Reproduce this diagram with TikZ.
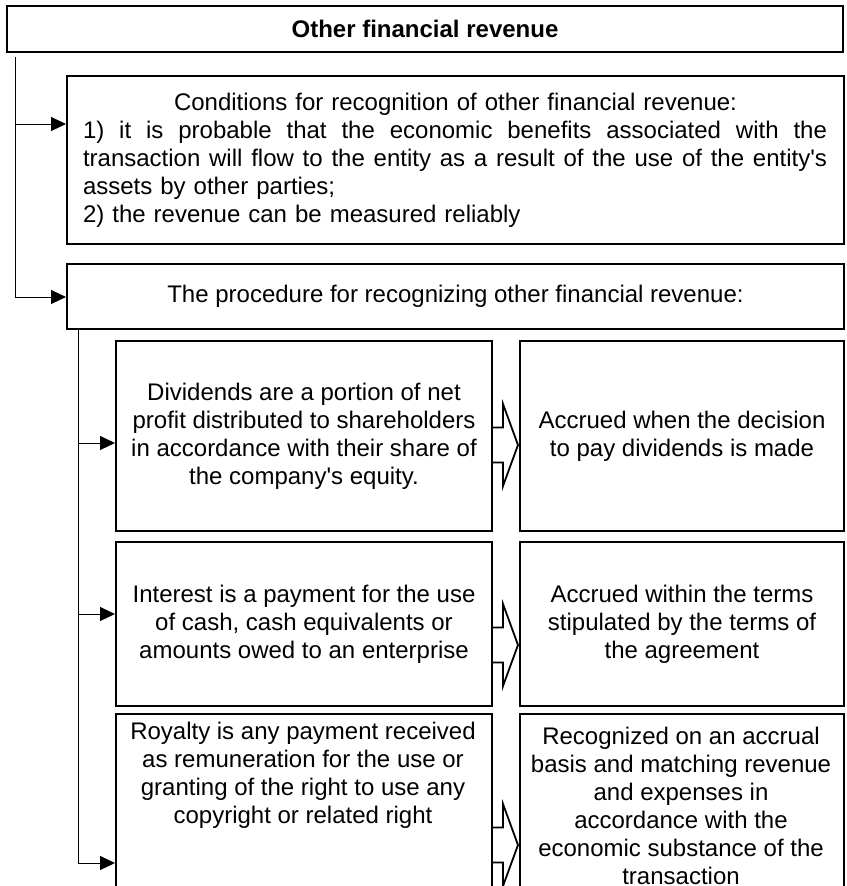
\documentclass[tikz,border=0pt]{standalone}
\usepackage{fontspec}
\setmainfont{Liberation Sans}[Ligatures=TeXOff]
\usetikzlibrary{arrows.meta}
\newcommand\justline[1]{\makebox[744pt][s]{\spaceskip=0.278em plus 10em\relax #1}}
\begin{document}
\begin{tikzpicture}[x=1pt,y=-1pt,
  box/.style={draw, line width=2pt, rectangle, inner sep=0pt, anchor=north west,
              font=\fontsize{24}{28}\selectfont, align=center},
  txt/.style={inner sep=0pt, font=\fontsize{24}{28}\selectfont, align=center},
  conn/.style={line width=1pt, -{Triangle[length=15pt,width=14pt]}},
  blockarrow/.style={draw, line width=1.8pt, line join=miter}
]
\useasboundingbox (0,0) rectangle (846,886);
\clip (0,0) rectangle (846,886);

% title
\node[box, minimum width=836pt, minimum height=46pt] (title) at (6,5)
  {\bfseries Other financial revenue};

% conditions
\node[box, minimum width=777pt, minimum height=168pt, text width=745pt,
      inner xsep=16pt, align=left] (cond) at (66,75)
  {\makebox[745pt][c]{Conditions for recognition of other financial revenue:}\\
   \justline{1) it is probable that the economic benefits associated with the}\\
   \justline{transaction will flow to the entity as a result of the use of the entity's}\\
   assets by other parties;\\
   2) the revenue can be measured reliably};

% procedure
\node[box, minimum width=777pt, minimum height=65pt] (proc) at (66,263)
  {The procedure for recognizing other financial revenue:};

% left column
\node[box, minimum width=376pt, minimum height=190pt] (l1) at (115,340)
  {Dividends are a portion of net\\profit distributed to shareholders\\in accordance with their share of\\the company's equity.};
\node[box, minimum width=376pt, minimum height=164pt] (l2) at (115,541)
  {Interest is a payment for the use\\of cash, cash equivalents or\\amounts owed to an enterprise};
\node[box, minimum width=376pt, minimum height=260pt] (l3) at (115,713) {};
\node[txt] (l3t) at (303,775)
  {Royalty is any payment received\\as remuneration for the use or\\granting of the right to use any\\copyright or related right};

% right column
\node[box, minimum width=324pt, minimum height=190pt] (r1) at (519,340)
  {Accrued when the decision\\to pay dividends is made};
\node[box, minimum width=324pt, minimum height=164pt] (r2) at (519,541)
  {Accrued within the terms\\stipulated by the terms of\\the agreement};
\node[box, minimum width=324pt, minimum height=260pt] (r3) at (519,713) {};
\node[txt] (r3t) at (681,806)
  {Recognized on an accrual\\basis and matching revenue\\and expenses in\\accordance with the\\economic substance of the\\transaction};

% connectors from the top trunk
\coordinate (t0) at (15,57);
\draw[conn] (t0) |- (proc.west |- 0,297);
\draw[conn] (15,124) -- (cond.west |- 0,124);

% second trunk
\draw[conn] (proc.south -| 78,0) |- (l3.west |- 0,863);
\draw[conn] (78,443) -- (l1.west |- 0,443);
\draw[conn] (78,614) -- (l2.west |- 0,614);

% block arrows
\foreach \c in {445,645,845}{
  \draw[blockarrow] (491,\c-17.5) -- (503,\c-17.5) -- (503,\c-41) -- (518,\c)
     -- (503,\c+41) -- (503,\c+17.5) -- (491,\c+17.5);
}
\end{tikzpicture}
\end{document}
